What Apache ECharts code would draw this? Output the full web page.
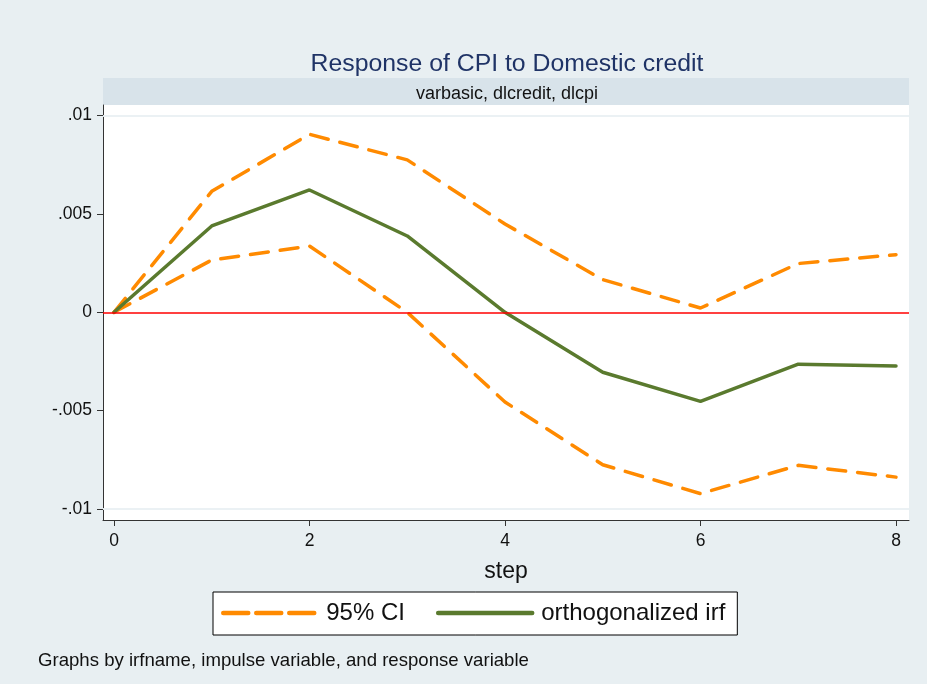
<!DOCTYPE html>
<html>
<head>
<meta charset="utf-8">
<script src="https://cdn.jsdelivr.net/npm/echarts@6/dist/echarts.min.js"></script>
<style>
html,body{margin:0;padding:0;background:#e8eff2;}
#c{width:927px;height:684px;}
</style>
</head>
<body>
<div id="c"></div>
<script>
const steps = [0, 1, 2, 3, 4, 5, 6, 7, 8];
const irf = [0, 0.00439, 0.00622, 0.00388, 0, -0.00305, -0.00453, -0.00264, -0.00273];
const ciUpper = [0, 0.00615, 0.00905, 0.00775, 0.00449, 0.00166, 0.00022, 0.00248, 0.00293];
const ciLower = [0, 0.00266, 0.00337, 0, -0.00456, -0.00775, -0.00922, -0.00778, -0.00838];
const xTicks = [0, 2, 4, 6, 8];
const yTicks = [-0.01, -0.005, 0, 0.005, 0.01];
const yTickLabels = ['-.01', '-.005', '0', '.005', '.01'];

const FONT = 'Liberation Sans, Arial, sans-serif';
const ORANGE = '#ff8a00';
const GREEN = '#5a7a2e';

function pairs(ys) { return steps.map((s, i) => [s, ys[i]]); }

const chart = echarts.init(document.getElementById('c'));
chart.setOption({
  backgroundColor: '#e8eff2',
  animation: false,
  graphic: [
    { type: 'rect', shape: { x: 103, y: 78, width: 806, height: 27 }, style: { fill: '#d8e3ea' }, z: 0 }
  ],
  title: [
    { text: 'Response of CPI to Domestic credit', left: 502, top: 47, textAlign: 'center',
      textStyle: { fontFamily: FONT, fontSize: 24.8, fontWeight: 'normal', color: '#1f3366' } },
    { text: 'varbasic, dlcredit, dlcpi', left: 502, top: 80, textAlign: 'center',
      textStyle: { fontFamily: FONT, fontSize: 18, fontWeight: 'normal', color: '#111' } },
    { text: 'Graphs by irfname, impulse variable, and response variable', left: 33, top: 646,
      textStyle: { fontFamily: FONT, fontSize: 18.6, fontWeight: 'normal', color: '#111' } }
  ],
  legend: {
    left: 213, top: 592,
    data: [
      { name: '95% CI', itemStyle: { opacity: 0 },
        lineStyle: { color: ORANGE, width: 4.5, type: [25, 8], cap: 'round' } },
      { name: 'orthogonalized irf', itemStyle: { opacity: 0 },
        lineStyle: { color: GREEN, width: 4.5, type: 'solid', cap: 'round' } }
    ],
    backgroundColor: '#fff', borderColor: '#000', borderWidth: 1,
    padding: [9, 12, 10, 8],
    itemWidth: 94, itemHeight: 18, itemGap: 31,
    textStyle: { fontFamily: FONT, fontSize: 24, color: '#111', padding: [0, 0, 0, 4] }
  },
  grid: { left: 103, right: 18, top: 105, bottom: 164, show: true, backgroundColor: '#fff', borderWidth: 0 },
  xAxis: {
    type: 'value', min: -0.1125, max: 8.133,
    name: 'step', nameLocation: 'middle', nameGap: 40,
    nameTextStyle: { fontFamily: FONT, fontSize: 23, color: '#111' },
    axisLine: { show: true, onZero: false, lineStyle: { color: '#333', width: 1 } },
    axisTick: { show: true, length: 6, customValues: xTicks, lineStyle: { color: '#333' } },
    axisLabel: { customValues: xTicks, margin: 12, fontFamily: FONT, fontSize: 17.5, color: '#111' },
    splitLine: { show: false }
  },
  yAxis: {
    type: 'value', min: -0.01056, max: 0.01054,
    axisLine: { show: true, onZero: false, lineStyle: { color: '#333', width: 1 } },
    axisTick: { show: true, length: 6, customValues: yTicks, lineStyle: { color: '#333' } },
    axisLabel: { customValues: yTicks, margin: 11, fontFamily: FONT, fontSize: 17.5, color: '#111',
      formatter: v => { const i = yTicks.findIndex(t => Math.abs(t - v) < 1e-9); return i >= 0 ? yTickLabels[i] : ''; } },
    splitLine: { show: false }
  },
  series: [
    { type: 'line', name: 'grid', data: [], silent: true, symbol: 'none',
      markLine: { silent: true, symbol: 'none', label: { show: false },
        lineStyle: { color: '#eaf0f3', width: 1.5, type: 'solid' },
        data: yTicks.filter(v => v !== 0).map(v => ({ yAxis: v })) } },
    { type: 'line', name: 'zero', data: [], silent: true, symbol: 'none',
      markLine: { silent: true, symbol: 'none', label: { show: false },
        lineStyle: { color: '#ff0000', width: 1.6, type: 'solid' },
        data: [{ yAxis: 0 }] } },
    { type: 'line', name: '95% CI', data: pairs(ciUpper), symbol: 'none', showSymbol: false,
      lineStyle: { color: ORANGE, width: 3.5, type: [18, 12], cap: 'round' }, itemStyle: { color: ORANGE } },
    { type: 'line', name: '95% CI', data: pairs(ciLower), symbol: 'none', showSymbol: false,
      lineStyle: { color: ORANGE, width: 3.5, type: [18, 12], cap: 'round' }, itemStyle: { color: ORANGE } },
    { type: 'line', name: 'orthogonalized irf', data: pairs(irf), symbol: 'none', showSymbol: false,
      lineStyle: { color: GREEN, width: 3.5, type: 'solid', cap: 'round' }, itemStyle: { color: GREEN } }
  ]
});
</script>
</body>
</html>
